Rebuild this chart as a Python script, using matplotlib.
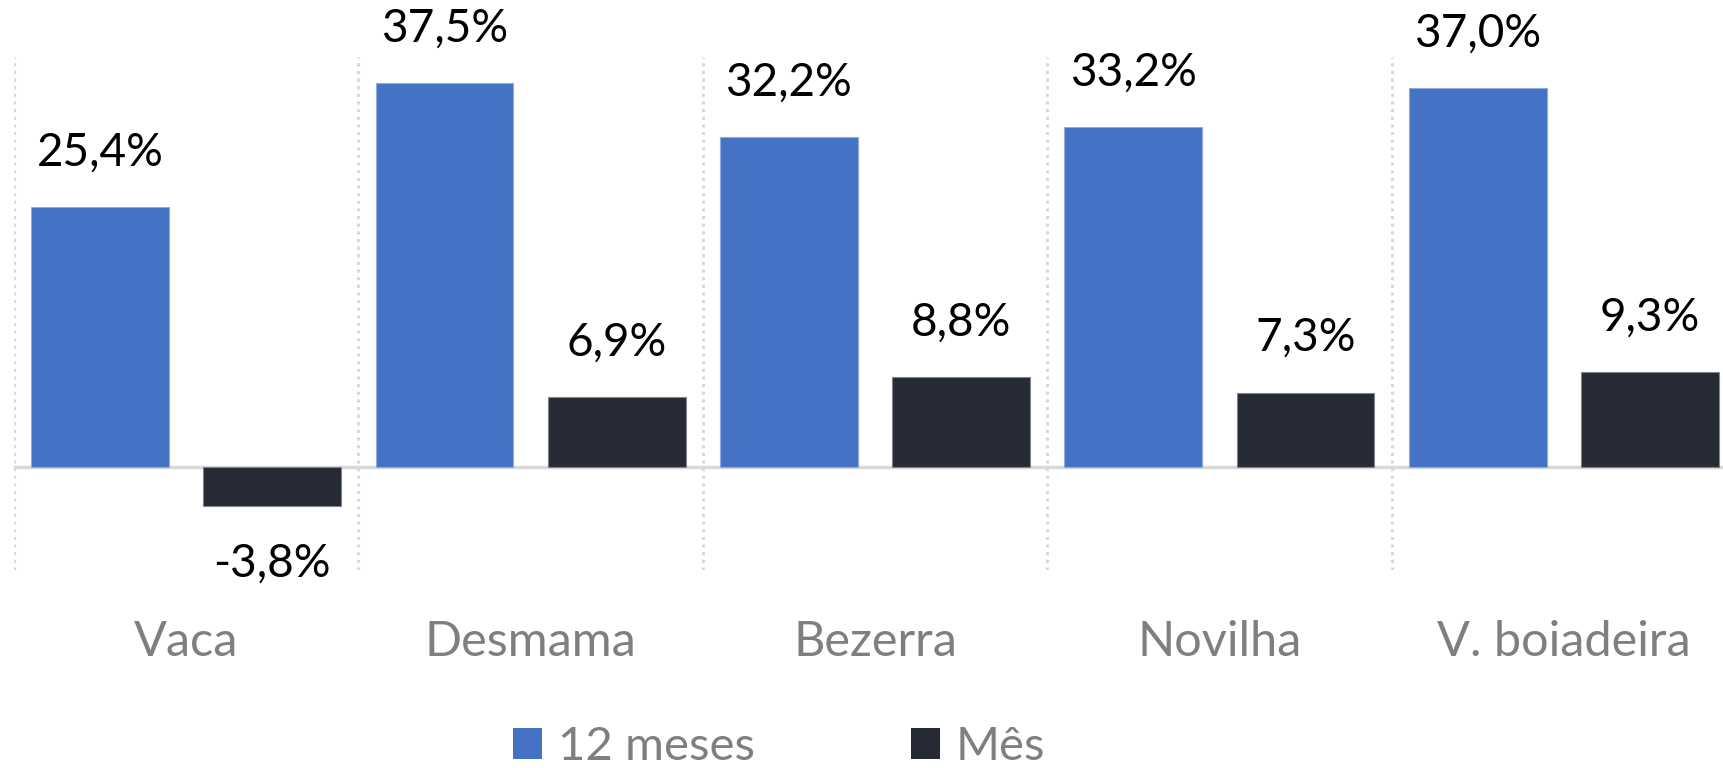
import matplotlib
matplotlib.use("Agg")
import matplotlib.pyplot as plt
import numpy as np
from matplotlib.patches import Patch

categories = ["Vaca", "Desmama", "Bezerra", "Novilha", "V. boiadeira"]
doze_meses = [25.4, 37.5, 32.2, 33.2, 37.0]
mes = [-3.8, 6.9, 8.8, 7.3, 9.3]
series_names = ["12 meses", "Mês"]

BLUE = "#4472C4"
DARK = "#252A35"
GRAY_TXT = "#7F7F7F"
GRID = "#D9D9D9"

plt.rcParams["font.family"] = ["Lato", "DejaVu Sans"]

fig = plt.figure(figsize=(17.23, 7.68), dpi=100)
ax = fig.add_axes([14 / 1723, 198 / 768, 1722 / 1723, 513 / 768])

x = np.arange(len(categories))
w = 0.4
b1 = ax.bar(x - 0.25, doze_meses, width=w, color=BLUE, edgecolor="#8FAADC", linewidth=0.8, zorder=3)
b2 = ax.bar(x + 0.25, mes, width=w, color=DARK, edgecolor="#7F8590", linewidth=0.8, zorder=3)

def fmt(v):
    return f"{v:.1f}%".replace(".", ",")

for bars, vals in ((b1, doze_meses), (b2, mes)):
    for r, v in zip(bars, vals):
        cx = r.get_x() + r.get_width() / 2
        if v >= 0:
            ax.annotate(fmt(v), (cx, v), xytext=(0, 24), textcoords="offset points",
                        ha="center", va="bottom", fontsize=33, color="black")
        else:
            ax.annotate(fmt(v), (cx, v), xytext=(0, -26), textcoords="offset points",
                        ha="center", va="top", fontsize=33, color="black")

ax.set_xlim(-0.5, 4.5)
ax.set_ylim(-10, 40)
ax.axhline(0, color=GRID, linewidth=2.5, zorder=2)

# dotted separators between categories
for xs in np.arange(-0.5, 5.0, 1.0):
    ax.axvline(xs, color=GRID, linestyle=(0, (1, 1.5)), linewidth=2.2, zorder=1)

ax.set_xticks(x)
ax.set_xticklabels(categories, fontsize=35, color=GRAY_TXT)
ax.tick_params(axis="x", length=0, pad=36)
ax.set_yticks([])
for s in ax.spines.values():
    s.set_visible(False)

handles = [Patch(facecolor=BLUE), Patch(facecolor=DARK)]
fig.legend(handles, series_names, loc="center", bbox_to_anchor=(779 / 1723, 1 - 747 / 768),
           ncol=2, frameon=False, fontsize=34, labelcolor=GRAY_TXT,
           handlelength=0.62, handleheight=0.62, handletextpad=0.33, columnspacing=3.3,
           borderpad=0.1)

fig.savefig("out.png", dpi=100)
